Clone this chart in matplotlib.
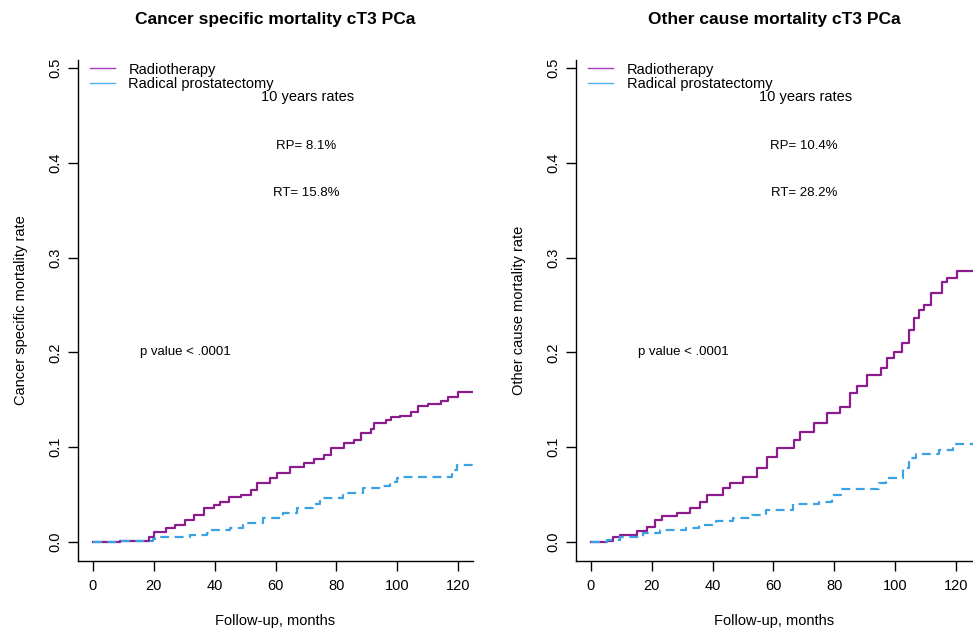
import numpy as np
import matplotlib
matplotlib.use("Agg")
import matplotlib.pyplot as plt
from matplotlib.lines import Line2D

plt.rcParams['font.family'] = ['Liberation Sans', 'DejaVu Sans']

# cumulative incidence step points (months, rate)
csm_rt_t = [0, 8.9, 18.4, 20, 24, 27, 30.4, 33.2, 36.4, 39.7, 41.9, 44.6, 48.5, 51.8,
            53.9, 58.3, 60.5, 64.9, 69.3, 72.6, 75.9, 78.1, 82.5, 85.8, 88, 91.3, 92.4,
            96.2, 97.9, 101, 104.5, 106.7, 110, 114.4, 116.6, 119.9, 125]
csm_rt_y = [0, 0.0014, 0.0056, 0.010, 0.0144, 0.0175, 0.023, 0.0285, 0.0355, 0.039,
            0.0425, 0.047, 0.0496, 0.055, 0.062, 0.067, 0.0725, 0.0795, 0.0837, 0.087,
            0.0918, 0.0988, 0.104, 0.1076, 0.1146, 0.1188, 0.1252, 0.1287, 0.1315,
            0.133, 0.1375, 0.1435, 0.146, 0.149, 0.153, 0.158, 0.158]

csm_rp_t = [0, 8.9, 19.8, 20.5, 31.9, 37.4, 38.5, 45, 49.3, 55.9, 62.5, 66.9, 72.4,
            74.6, 82.2, 88.8, 95.4, 97.6, 99.8, 102, 117.9, 119.5, 125]
csm_rp_y = [0, 0.001, 0.003, 0.0056, 0.0073, 0.009, 0.0127, 0.0144, 0.0197, 0.025,
            0.0302, 0.0355, 0.040, 0.046, 0.0513, 0.0566, 0.0585, 0.0636, 0.067,
            0.0689, 0.076, 0.081, 0.081]

ocm_rt_t = [0, 5.2, 7.3, 9.5, 15, 18.3, 21, 23.2, 28.2, 32.5, 35.8, 38, 43.5, 45.7,
            50.1, 54.5, 57.8, 61.1, 66.6, 68.8, 73.2, 77.6, 82, 85.3, 87.5, 90.8,
            95.2, 97.4, 99.6, 102.3, 104.5, 106.2, 107.8, 109.5, 111.7, 115.5, 117.2,
            120.5, 125.6]
ocm_rt_y = [0, 0.0014, 0.0046, 0.0074, 0.011, 0.016, 0.023, 0.0274, 0.030, 0.0355,
            0.0425, 0.0496, 0.0566, 0.062, 0.0689, 0.0777, 0.090, 0.0988, 0.1076,
            0.1164, 0.1252, 0.1364, 0.1426, 0.1568, 0.1646, 0.176, 0.1832, 0.1938,
            0.2008, 0.2096, 0.2236, 0.236, 0.2447, 0.25, 0.2624, 0.2746, 0.278,
            0.2862, 0.2862]

ocm_rp_t = [0, 5.2, 9.5, 17.1, 22.6, 31.3, 35.6, 41.1, 46.6, 53.1, 57.5, 66.3, 75,
            79.4, 82.2, 94.8, 97, 102.5, 104.7, 106.9, 114.5, 118.9, 125.6]
ocm_rp_y = [0, 0.002, 0.0046, 0.009, 0.0127, 0.015, 0.0175, 0.0215, 0.0257, 0.0285,
            0.0338, 0.040, 0.042, 0.0496, 0.0556, 0.062, 0.067, 0.0777, 0.0883,
            0.0928, 0.097, 0.1034, 0.1034]

titles = ["Cancer specific mortality cT3 PCa", "Other cause mortality cT3 PCa"]
ylabels = ["Cancer specific mortality rate", "Other cause mortality rate"]
rp_text = ["RP= 8.1%", "RP= 10.4%"]
rt_text = ["RT= 15.8%", "RT= 28.2%"]
series_names = ["Radiotherapy", "Radical prostatectomy"]

purple = '#8B1C8E'
blue = '#3AA2E2'

W, H = 973, 630
fig = plt.figure(figsize=(W / 100, H / 100), dpi=100)

# axes boxes in pixels: left, right, top, bottom
boxes = [(78, 473, 60, 561), (576, 973, 60, 561)]
xlims = [(-4.93, 124.9), (-4.93, 125.6)]
data = [(csm_rt_t, csm_rt_y, csm_rp_t, csm_rp_y),
        (ocm_rt_t, ocm_rt_y, ocm_rp_t, ocm_rp_y)]

for i in range(2):
    l, r, t, b = boxes[i]
    ax = fig.add_axes([l / W, (H - b) / H, (r - l) / W, (b - t) / H])
    rt_t, rt_y, rp_t, rp_y = data[i]
    ax.step(rt_t, rt_y, where='post', color=purple, lw=1.6)
    ax.step(rp_t, rp_y, where='post', color=blue, lw=1.6, ls=(0, (4, 2.5)))
    ax.set_xlim(*xlims[i])
    ax.set_ylim(-0.0202, 0.5085)
    for s in ['top', 'right']:
        ax.spines[s].set_visible(False)
    for s in ['left', 'bottom']:
        ax.spines[s].set_linewidth(1.0)
    ax.set_xticks([0, 20, 40, 60, 80, 100, 120])
    ax.set_yticks([0.0, 0.1, 0.2, 0.3, 0.4, 0.5])
    ax.set_yticklabels(["0.0", "0.1", "0.2", "0.3", "0.4", "0.5"],
                       rotation=90, va='center')
    ax.tick_params(axis='both', direction='out', length=7, width=1,
                   labelsize=10.5)
    ax.tick_params(axis='x', pad=6)
    ax.tick_params(axis='y', pad=4)

    ax.set_title(titles[i], fontsize=12.5, fontweight='bold', pad=26)
    ax.set_ylabel(ylabels[i], fontsize=10.5, labelpad=15)
    ax.set_xlabel("Follow-up, months", fontsize=10.5, labelpad=15)

    handles = [Line2D([], [], color='#A83CB8', lw=1.0),
               Line2D([], [], color='#4DB0E8', lw=1.0)]
    ax.legend(handles, series_names, loc='upper left', frameon=False,
              fontsize=10.5, handlelength=1.75, handletextpad=0.9,
              labelspacing=0.05, borderaxespad=0, borderpad=0,
              bbox_to_anchor=(0.030, 0.995))

    ax.text(70.5, 0.469, "10 years rates", fontsize=10.5, ha='center', va='center')
    ax.text(70, 0.418, rp_text[i], fontsize=9.5, ha='center', va='center')
    ax.text(70, 0.368, rt_text[i], fontsize=9.5, ha='center', va='center')
    ax.text(15.5, 0.2, "p value < .0001", fontsize=9.5, ha='left', va='center')

fig.savefig("out.png", dpi=100)
